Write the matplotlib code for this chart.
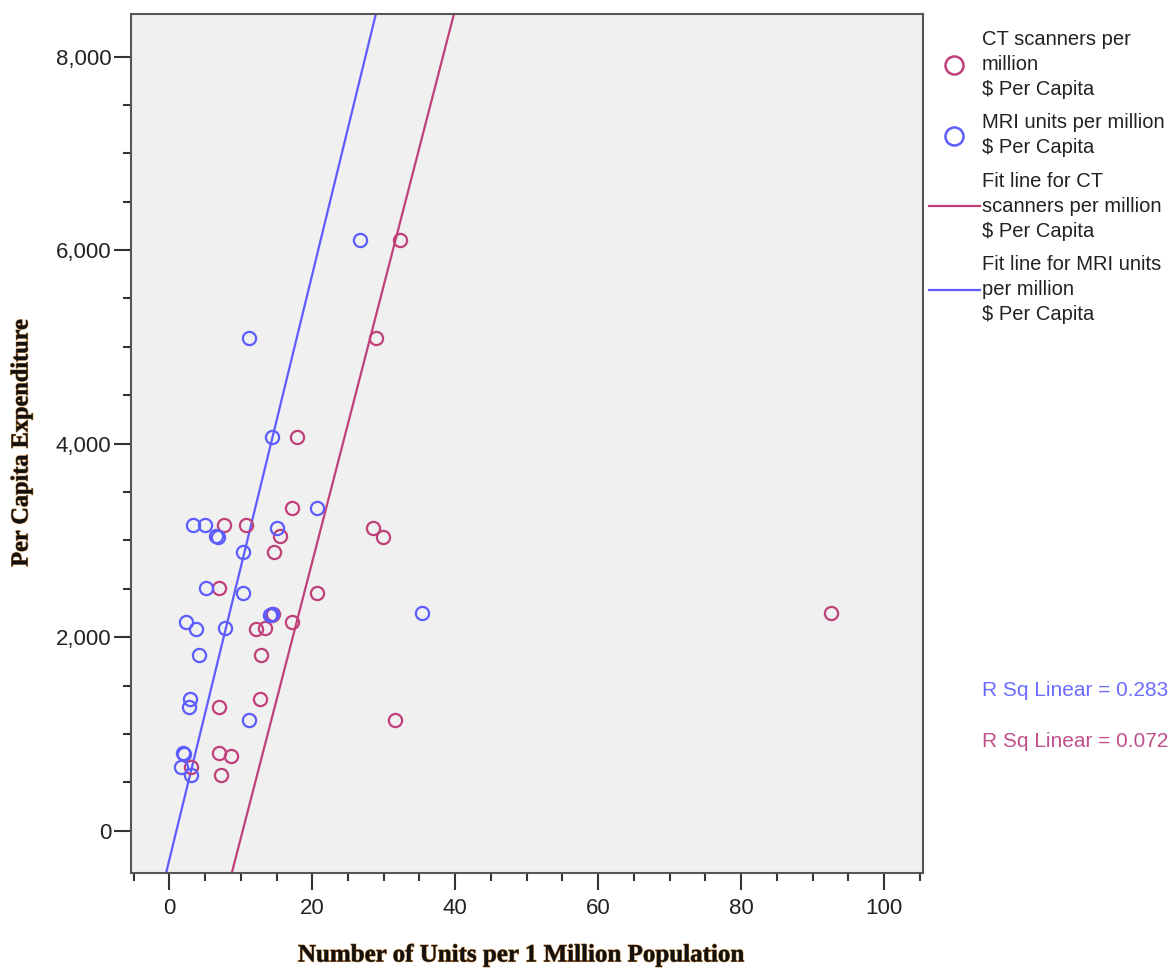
import matplotlib
matplotlib.use("Agg")
import matplotlib.pyplot as plt
import matplotlib.patheffects as pe
from matplotlib.ticker import MultipleLocator, StrMethodFormatter
from matplotlib.lines import Line2D

# CT scanners per million vs $ per capita
ct_units = [32.3, 28.9, 17.9, 17.1, 7.6, 10.8, 28.5, 29.9, 15.5, 14.6, 7.0, 20.6, 14.3,
            14.5, 92.6, 17.1, 12.1, 13.4, 12.8, 12.7, 6.9, 31.6, 6.9, 8.7, 3.1, 7.3]
ct_spend = [6100, 5090, 4070, 3330, 3160, 3160, 3130, 3040, 3050, 2880, 2510, 2460, 2230,
            2240, 2250, 2160, 2080, 2090, 1820, 1360, 1280, 1140, 800, 770, 660, 580]

# MRI units per million vs $ per capita
mri_units = [26.7, 11.2, 14.4, 20.6, 3.3, 5.0, 6.6, 6.8, 15.0, 10.3, 5.1, 10.3, 14.1,
             14.3, 35.4, 2.4, 3.8, 7.8, 4.1, 2.9, 2.7, 11.1, 1.9, 2.0, 1.7, 3.1]
mri_spend = [6100, 5090, 4070, 3330, 3160, 3160, 3050, 3040, 3130, 2880, 2510, 2460, 2230,
             2240, 2250, 2160, 2080, 2090, 1820, 1360, 1280, 1140, 800, 790, 660, 580]

# fit lines (slope, intercept) as drawn in the original
fit_ct = (285.6, -2933)
fit_mri = (302.5, -301)
r2_ct = 0.072
r2_mri = 0.283

ct_color = "#c0407a"
mri_color = "#5c5cff"

fig = plt.figure(figsize=(11.75, 9.72), dpi=100)
ax = fig.add_axes([130.7 / 1175, 1 - 873.3 / 972, 792 / 1175, 859.3 / 972])
ax.set_facecolor("#f0f0f0")

ax.plot(ct_units, ct_spend, "o", mfc="none", mec=ct_color, ms=9.5, mew=1.6, zorder=3)
ax.plot(mri_units, mri_spend, "o", mfc="none", mec=mri_color, ms=9.5, mew=1.6, zorder=4)
ax.axline((0, fit_ct[1]), slope=fit_ct[0], color=ct_color, lw=1.6, zorder=2)
ax.axline((0, fit_mri[1]), slope=fit_mri[0], color=mri_color, lw=1.6, zorder=2)

ax.set_xlim(-5.4, 105.4)
ax.set_ylim(-440, 8440)
ax.xaxis.set_major_locator(MultipleLocator(20))
ax.xaxis.set_minor_locator(MultipleLocator(5))
ax.yaxis.set_major_locator(MultipleLocator(2000))
ax.yaxis.set_minor_locator(MultipleLocator(500))
ax.yaxis.set_major_formatter(StrMethodFormatter("{x:,.0f}"))

for s in ax.spines.values():
    s.set_color("#555555")
    s.set_linewidth(1.5)
ax.tick_params(which="major", length=12, width=1.5, color="#333333", labelsize=16,
               labelcolor="#222222")
ax.tick_params(which="minor", length=6, width=1.5, color="#333333")
ax.tick_params(axis="y", pad=2)
ax.tick_params(axis="x", pad=6)
for lab in ax.get_xticklabels() + ax.get_yticklabels():
    lab.set_family("Liberation Sans")

glow = [pe.withStroke(linewidth=0.8, foreground="#b0702a")]
fig.text(521 / 1175, 1 - 955 / 972, "Number of Units per 1 Million Population",
         ha="center", va="center", fontsize=18, fontweight="bold",
         family="Liberation Serif", color="#111111", path_effects=glow)
fig.text(22 / 1175, 1 - 443 / 972, "Per Capita Expenditure", rotation=90,
         ha="center", va="center", fontsize=17.5, fontweight="bold",
         family="Liberation Serif", color="#111111", path_effects=glow)

handles = [
    Line2D([], [], ls="none", marker="o", mfc="none", mec=ct_color, ms=13, mew=1.8),
    Line2D([], [], ls="none", marker="o", mfc="none", mec=mri_color, ms=13, mew=1.8),
    Line2D([], [], color=ct_color, lw=1.6),
    Line2D([], [], color=mri_color, lw=1.6),
]
labels = [
    "CT scanners per\nmillion\n$ Per Capita",
    "MRI units per million\n$ Per Capita",
    "Fit line for CT\nscanners per million\n$ Per Capita",
    "Fit line for MRI units\nper million\n$ Per Capita",
]
leg = ax.legend(handles, labels, loc="upper left", bbox_to_anchor=(1.0, 0.988),
                borderaxespad=0, borderpad=0.3, frameon=False, handlelength=2.55,
                handletextpad=0.1, labelspacing=0.7,
                prop={"family": "Liberation Sans", "size": 14.5})
for t in leg.get_texts():
    t.set_color("#222222")
    t.set_linespacing(1.4)

fig.text(1168 / 1175, 1 - 690 / 972, f"R Sq Linear = {r2_mri:.3f}", ha="right",
         va="center", fontsize=15, family="Liberation Sans", color="#6b6bff")
fig.text(1168 / 1175, 1 - 741 / 972, f"R Sq Linear = {r2_ct:.3f}", ha="right",
         va="center", fontsize=15, family="Liberation Sans", color="#c0508a")

fig.savefig("out.png", dpi=100)
